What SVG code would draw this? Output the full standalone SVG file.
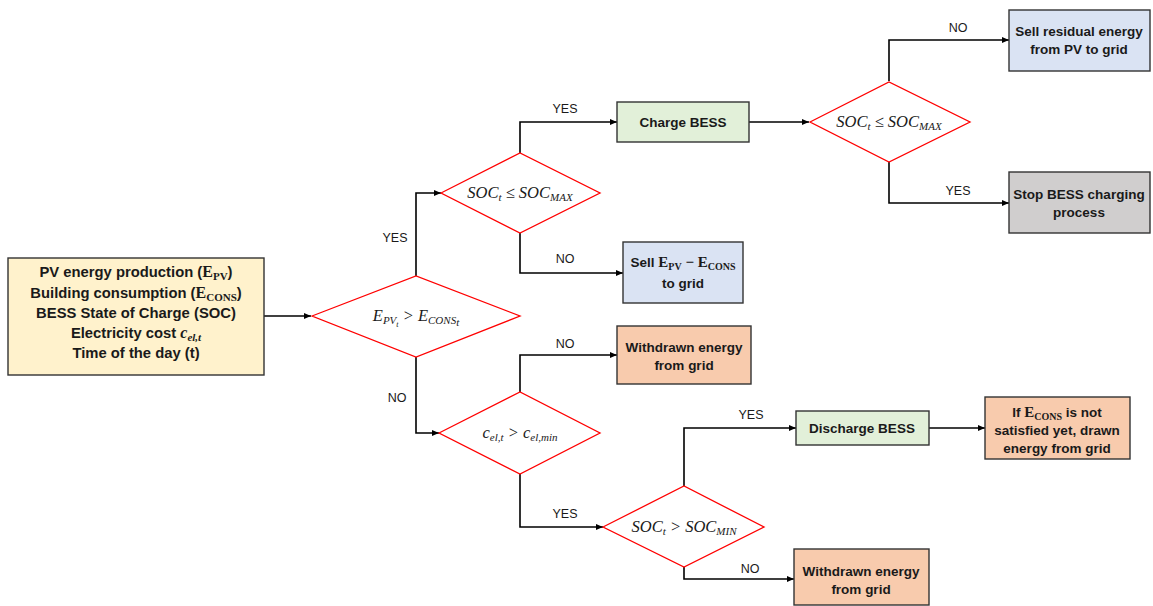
<svg xmlns="http://www.w3.org/2000/svg" width="1153" height="606" viewBox="0 0 1153 606">
<defs>
<marker id="arr" markerWidth="8" markerHeight="8" refX="7" refY="4" orient="auto" markerUnits="userSpaceOnUse">
<path d="M0,1 L7,4 L0,7 Z" fill="#000"/>
</marker>
<style>
.box{stroke:#333;stroke-width:1.4}
.dia{fill:#fff;stroke:#ff0000;stroke-width:1.3}
.t{font-family:"Liberation Sans",Arial,sans-serif;font-weight:bold;font-size:13.5px;fill:#1a1a1a;text-anchor:middle}
.in{font-size:14.8px}
.m{font-family:"Liberation Serif","Times New Roman",serif;font-style:italic;font-size:16.5px;fill:#1a1a1a;text-anchor:middle}
.mb{font-family:"Liberation Serif","Times New Roman",serif;font-weight:bold}
.lbl{font-family:"Liberation Sans",Arial,sans-serif;font-size:12.5px;fill:#1a1a1a;text-anchor:middle}
.c{fill:none;stroke:#000;stroke-width:1.6;marker-end:url(#arr)}
</style>
</defs>
<rect width="1153" height="606" fill="#fff"/>
<g id="connectors">
<path class="c" d="M264,316 H311"/>
<path class="c" d="M416,276 V193 H441"/>
<path class="c" d="M416,357 V433 H439"/>
<path class="c" d="M520,153 V122 H617"/>
<path class="c" d="M520,233 V273 H623"/>
<path class="c" d="M749,122 H809"/>
<path class="c" d="M889,81 V40 H1009"/>
<path class="c" d="M889,162 V203 H1009"/>
<path class="c" d="M520,392 V355 H617"/>
<path class="c" d="M520,474 V527 H603"/>
<path class="c" d="M684,486 V428 H796"/>
<path class="c" d="M929,428 H985"/>
<path class="c" d="M684,567 V579 H794"/>
<text class="lbl" x="395" y="242">YES</text>
<text class="lbl" x="397" y="402">NO</text>
<text class="lbl" x="565" y="113">YES</text>
<text class="lbl" x="565" y="263">NO</text>
<text class="lbl" x="958" y="32">NO</text>
<text class="lbl" x="958" y="195">YES</text>
<text class="lbl" x="565" y="348">NO</text>
<text class="lbl" x="565" y="518">YES</text>
<text class="lbl" x="751" y="419">YES</text>
<text class="lbl" x="750" y="573">NO</text>
</g>
<g id="input">
<rect class="box" x="8" y="258" width="256" height="117" fill="#fff2cc"/>
<text class="t in" x="136" y="277">PV energy production (<tspan class="mb" font-size="16">E</tspan><tspan class="mb" font-size="11" dy="3">PV</tspan><tspan dy="-3">)</tspan></text>
<text class="t in" x="136" y="298">Building consumption (<tspan class="mb" font-size="16">E</tspan><tspan class="mb" font-size="11" dy="3">CONS</tspan><tspan dy="-3">)</tspan></text>
<text class="t in" x="136" y="318">BESS State of Charge (SOC)</text>
<text class="t in" x="136" y="338">Electricity cost <tspan class="mb" font-style="italic" font-size="16">c</tspan><tspan class="mb" font-style="italic" font-size="11" dy="3">el,t</tspan></text>
<text class="t in" x="136" y="358">Time of the day (t)</text>
</g>
<g id="d1">
<polygon class="dia" points="312,316 416,276 520,316 416,357"/>
<text class="m" x="416" y="321">E<tspan font-size="11" dy="3">PV</tspan><tspan font-size="8" dy="3">t</tspan><tspan dy="-6"> &gt; E</tspan><tspan font-size="11" dy="3">CONS</tspan><tspan font-size="11" dy="2">t</tspan></text>
</g>
<g id="d2">
<polygon class="dia" points="441,193 520,153 600,193 520,233"/>
<text class="m" x="520" y="198">SOC<tspan font-size="11" dy="3">t</tspan><tspan dy="-3"> ≤ SOC</tspan><tspan font-size="11" dy="3">MAX</tspan></text>
</g>
<g id="charge">
<rect class="box" x="617" y="102" width="132" height="40" fill="#e2f0d9"/>
<text class="t" x="683" y="127" font-size="14.5">Charge BESS</text>
</g>
<g id="d4">
<polygon class="dia" points="810,122 889,82 970,122 889,162"/>
<text class="m" x="889" y="127">SOC<tspan font-size="11" dy="3">t</tspan><tspan dy="-3"> ≤ SOC</tspan><tspan font-size="11" dy="3">MAX</tspan></text>
</g>
<g id="sellres">
<rect class="box" x="1009" y="10" width="141" height="61" fill="#dae3f3"/>
<text class="t" x="1079" y="36">Sell residual energy</text>
<text class="t" x="1079" y="54">from PV to grid</text>
</g>
<g id="stop">
<rect class="box" x="1009" y="172" width="141" height="61" fill="#d0cece"/>
<text class="t" x="1079" y="199">Stop BESS charging</text>
<text class="t" x="1079" y="217">process</text>
</g>
<g id="sell">
<rect class="box" x="623" y="242" width="120" height="61" fill="#dae3f3"/>
<text class="t" x="683" y="267">Sell <tspan class="mb" font-size="15">E</tspan><tspan class="mb" font-size="10" dy="3">PV</tspan><tspan class="mb" font-size="15" dy="-3"> − E</tspan><tspan class="mb" font-size="10" dy="3">CONS</tspan></text>
<text class="t" x="683" y="288">to grid</text>
</g>
<g id="withdraw1">
<rect class="box" x="617" y="326" width="134" height="58" fill="#f8cbad"/>
<text class="t" x="684" y="352">Withdrawn energy</text>
<text class="t" x="684" y="370">from grid</text>
</g>
<g id="d3">
<polygon class="dia" points="439,433 520,392 600,433 520,474"/>
<text class="m" x="520" y="438">c<tspan font-size="11" dy="3">el,t</tspan><tspan dy="-3"> &gt; c</tspan><tspan font-size="11" dy="3">el,min</tspan></text>
</g>
<g id="d5">
<polygon class="dia" points="603,527 684,486 764,527 684,567"/>
<text class="m" x="684" y="532">SOC<tspan font-size="11" dy="3">t</tspan><tspan dy="-3"> &gt; SOC</tspan><tspan font-size="11" dy="3">MIN</tspan></text>
</g>
<g id="discharge">
<rect class="box" x="796" y="411" width="133" height="34" fill="#e2f0d9"/>
<text class="t" x="862" y="433" font-size="14.5">Discharge BESS</text>
</g>
<g id="ifcons">
<rect class="box" x="985" y="397" width="145" height="62" fill="#f8cbad"/>
<text class="t" x="1057" y="417">If <tspan class="mb" font-size="15">E</tspan><tspan class="mb" font-size="10" dy="3">CONS</tspan><tspan dy="-3"> is not</tspan></text>
<text class="t" x="1057" y="435">satisfied yet, drawn</text>
<text class="t" x="1057" y="453">energy from grid</text>
</g>
<g id="withdraw2">
<rect class="box" x="794" y="549" width="135" height="56" fill="#f8cbad"/>
<text class="t" x="861" y="576">Withdrawn energy</text>
<text class="t" x="861" y="594">from grid</text>
</g>
</svg>
